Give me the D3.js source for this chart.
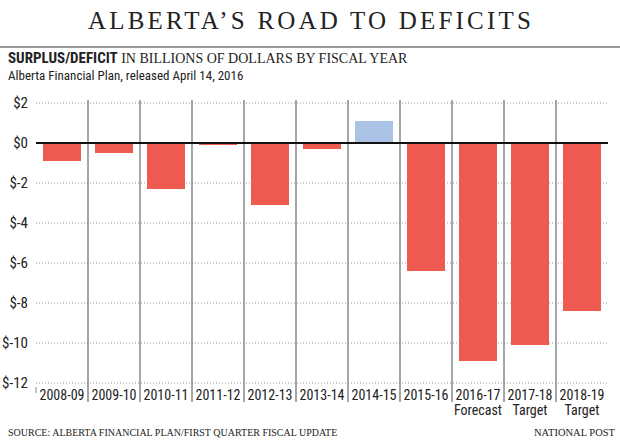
<!DOCTYPE html>
<html>
<head>
<meta charset="utf-8">
<script src="https://cdn.jsdelivr.net/npm/d3@7"></script>
<style>
body { margin:0; background:#fff; }
svg text { fill:#222; }
.cond { font-family:"Liberation Sans Narrow","Roboto Condensed","Liberation Sans",sans-serif; }
.serif { font-family:"Liberation Serif","DejaVu Serif",serif; }
</style>
</head>
<body>
<svg id="chart" width="620" height="446"></svg>
<script>
// fiscal years, values (billions of dollars)
const years = ["2008-09","2009-10","2010-11","2011-12","2012-13","2013-14","2014-15","2015-16","2016-17","2017-18","2018-19"];
const notes = ["","","","","","","","","Forecast","Target","Target"];
const values = [-0.9,-0.5,-2.3,-0.1,-3.1,-0.3,1.1,-6.4,-10.9,-10.1,-8.4];
const yTicks = [2,0,-2,-4,-6,-8,-10,-12];

const svg = d3.select("#chart");
const margin = {top:102, right:12, bottom:63, left:36};
const width = 620, height = 446;

const x = d3.scaleBand().domain(years).range([margin.left, width - margin.right]).paddingInner(0.27).paddingOuter(0.135);
const y = d3.scaleLinear().domain([-12,2]).range([383, 103]);
const step = x.step();
const bandStart = d => x(d) - (step - x.bandwidth()) / 2;

// title
svg.append("text").attr("class","serif")
	.attr("x", 311).attr("y", 29).attr("text-anchor","middle")
	.style("font-size","25px").style("letter-spacing","3.2px")
	.text("ALBERTA\u2019S ROAD TO DEFICITS");
svg.append("line").attr("x1",0).attr("x2",620).attr("y1",47).attr("y2",47)
	.attr("stroke","#777").attr("stroke-width",1.5);

const sub = svg.append("text").attr("x",8).attr("y",63);
sub.append("tspan").attr("class","cond").style("font-weight","bold").style("font-size","15px").text("SURPLUS/DEFICIT");
sub.append("tspan").attr("class","serif").style("font-size","14px").text(" IN BILLIONS OF DOLLARS BY FISCAL YEAR");
svg.append("text").attr("class","cond").attr("x",8).attr("y",80).style("font-size","13px")
	.text("Alberta Financial Plan, released April 14, 2016");

// dotted gridlines
svg.append("g").selectAll("line").data(yTicks.filter(d => d !== 0)).join("line")
	.attr("x1", margin.left).attr("x2", width - margin.right)
	.attr("y1", d => y(d)).attr("y2", d => y(d))
	.attr("stroke","#999").attr("stroke-width",1).attr("stroke-dasharray","1,2");

// y labels
svg.append("g").selectAll("text").data(yTicks).join("text")
	.attr("class","cond")
	.attr("x", 28).attr("y", d => y(d)).attr("dy","0.35em")
	.attr("text-anchor","end").style("font-size","15px")
	.text(d => d < 0 ? "$-" + Math.abs(d) : "$" + d);

// vertical separators
svg.append("g").selectAll("line").data(years.slice(1)).join("line")
	.attr("x1", d => bandStart(d)).attr("x2", d => bandStart(d))
	.attr("y1", 100).attr("y2", 402)
	.attr("stroke","#888").attr("stroke-width",1.5);
svg.append("line").attr("x1",margin.left).attr("x2",margin.left).attr("y1",387).attr("y2",393)
	.attr("stroke","#888");

// bars
svg.append("g").selectAll("rect").data(values).join("rect")
	.attr("x", (d,i) => x(years[i]))
	.attr("width", x.bandwidth())
	.attr("y", d => y(Math.max(0,d)))
	.attr("height", d => Math.abs(y(d) - y(0)))
	.attr("fill", d => d > 0 ? "#a9c2e6" : "#ee5a4f");

// zero line
svg.append("line").attr("x1",margin.left).attr("x2",width - margin.right)
	.attr("y1",y(0)).attr("y2",y(0)).attr("stroke","#111").attr("stroke-width",2);

// category labels
const cx = d => x(d) + x.bandwidth()/2;
svg.append("g").selectAll("text").data(years).join("text")
	.attr("class","cond").attr("text-anchor","middle").style("font-size","14px")
	.attr("x", cx).attr("y", 400).text(d => d);
svg.append("g").selectAll("text").data(years).join("text")
	.attr("class","cond").attr("text-anchor","middle").style("font-size","14px")
	.attr("x", cx).attr("y", 415).text((d,i) => notes[i]);

// footer
svg.append("text").attr("class","serif").attr("x",8).attr("y",436).style("font-size","10px")
	.text("SOURCE: ALBERTA FINANCIAL PLAN/FIRST QUARTER FISCAL UPDATE");
svg.append("text").attr("class","serif").attr("x",615).attr("y",436).attr("text-anchor","end").style("font-size","10.5px")
	.text("NATIONAL POST");
</script>
</body>
</html>
